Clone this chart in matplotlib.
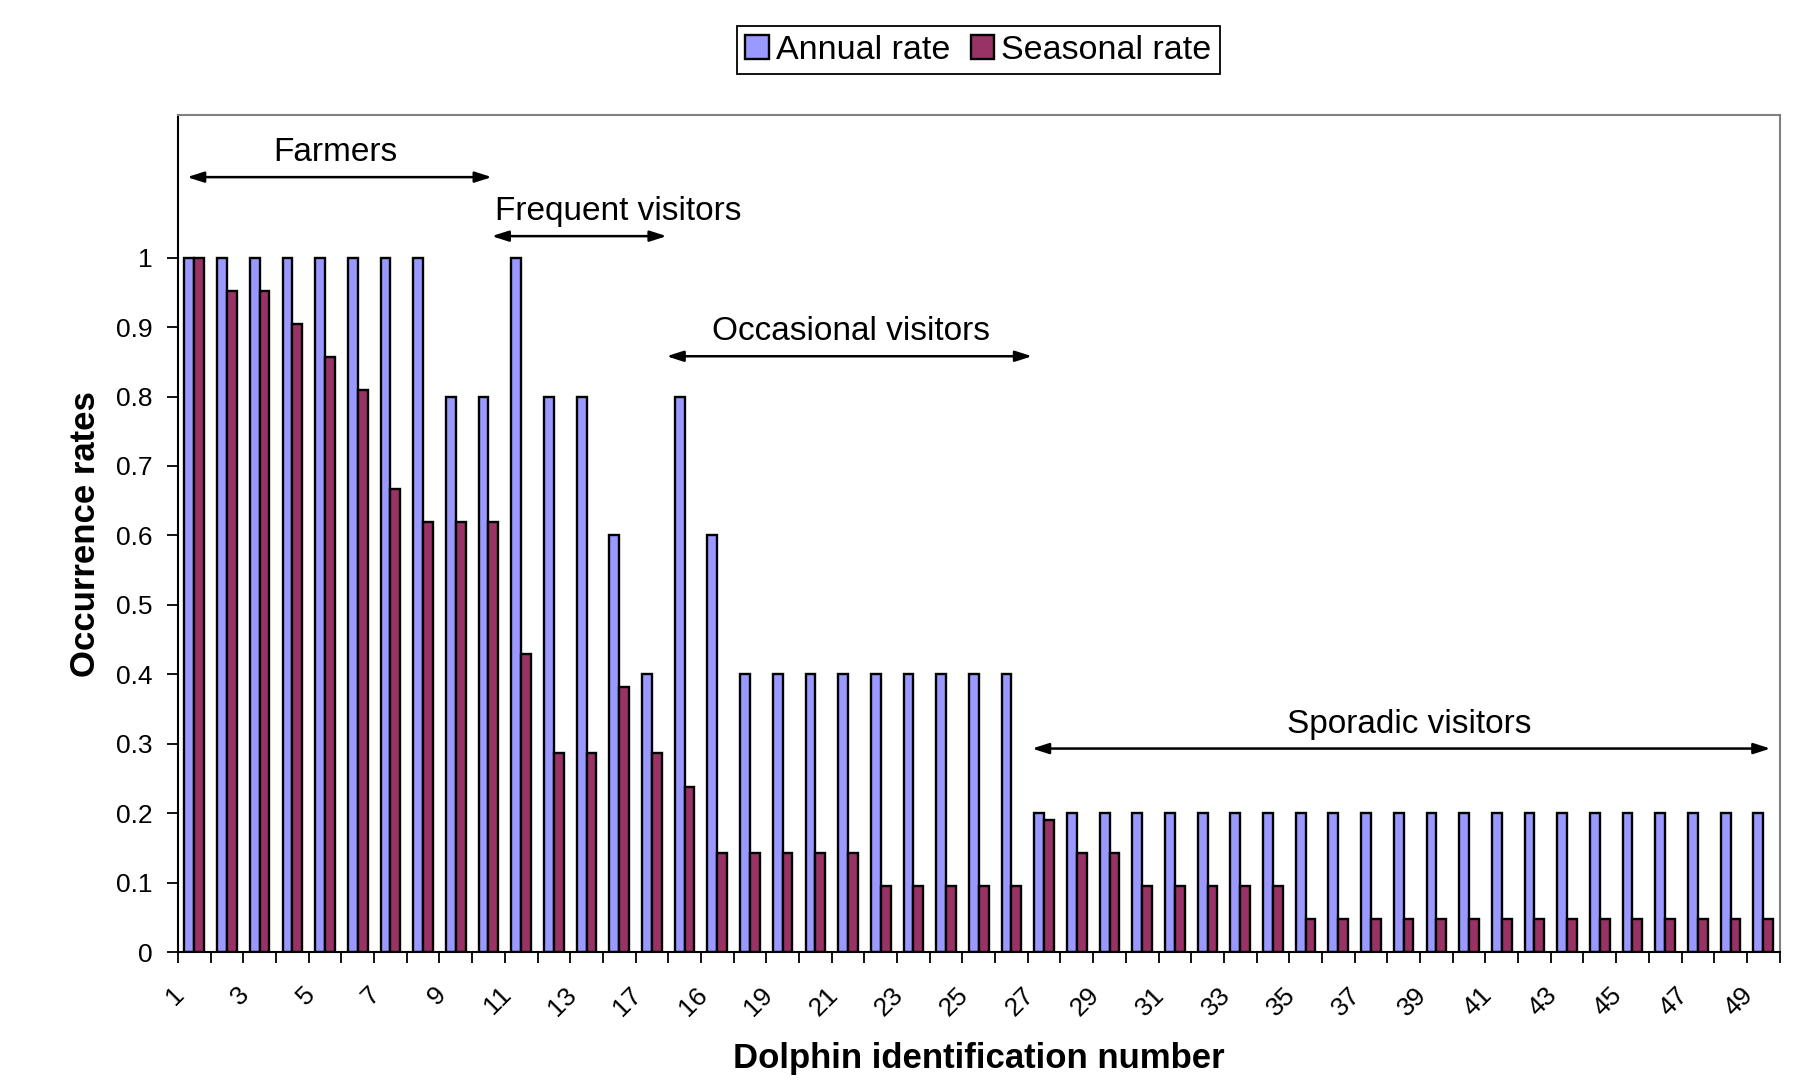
import numpy as np
import matplotlib
matplotlib.use("Agg")
import matplotlib.pyplot as plt
import matplotlib.transforms as mtransforms

plt.rcParams['font.family'] = ['Liberation Sans', 'DejaVu Sans']

# dolphin ids in the order they appear on the x axis
dolphin_ids = list(range(1, 15)) + [17, 15, 16] + list(range(18, 50))

annual_rate = [1, 1, 1, 1, 1, 1, 1, 1, 0.8, 0.8,
               1, 0.8, 0.8, 0.6, 0.4, 0.8, 0.6, 0.4, 0.4, 0.4,
               0.4, 0.4, 0.4, 0.4, 0.4, 0.4] + [0.2] * 23

seasonal_rate = [1, 0.952, 0.952, 0.905, 0.857, 0.81, 0.667, 0.619, 0.619, 0.619,
                 0.429, 0.286, 0.286, 0.381, 0.286, 0.238, 0.143, 0.143, 0.143, 0.143,
                 0.143, 0.095, 0.095, 0.095, 0.095, 0.095, 0.19, 0.143, 0.143, 0.095,
                 0.095, 0.095, 0.095, 0.095] + [0.048] * 15

# groups: label, arrow start, arrow end (x in category positions), arrow y
group_names = ["Farmers", "Frequent visitors", "Occasional visitors", "Sporadic visitors"]
group_start = [-0.22, 9.1, 14.45, 25.63]
group_end = [9.1, 14.45, 25.63, 48.22]
group_y = [1.116, 1.031, 0.858, 0.293]
group_text_x = [4.32, 12.97, 20.08, 37.17]

fig = plt.figure(figsize=(18.03, 10.88), dpi=100)
ax = fig.add_axes([0.0987, 0.125, 0.8883, 0.769])

x = np.arange(len(dolphin_ids))
w = 0.3
ax.bar(x - w / 2, annual_rate, w, color='#9999FF', edgecolor='black', linewidth=1.7,
       label='Annual rate')
ax.bar(x + w / 2, seasonal_rate, w, color='#993366', edgecolor='black', linewidth=1.7,
       label='Seasonal rate')

ax.set_xlim(-0.5, len(dolphin_ids) - 0.5)
ax.set_ylim(0, 1.205)

ax.set_yticks(np.arange(0, 1.01, 0.1))
ax.set_yticklabels(['0'] + ['%.1f' % v for v in np.arange(0.1, 0.95, 0.1)] + ['1'])
ax.tick_params(axis='y', labelsize=19, length=8, width=1.3, direction='out', pad=10)

ax.set_xticks(x[::2])
ax.set_xticklabels([str(d) for d in dolphin_ids[::2]], rotation=45, ha='right',
                   va='center', rotation_mode='anchor')
ax.set_xticks(np.arange(-0.5, len(dolphin_ids)), minor=True)
ax.tick_params(axis='x', which='major', labelsize=19, length=0, pad=28)
ax.tick_params(axis='x', which='minor', length=8, width=1.3, direction='out')
shift = mtransforms.ScaledTranslation(-0.14, 0, fig.dpi_scale_trans)
for lab in ax.get_xticklabels():
    lab.set_transform(lab.get_transform() + shift)

for s in ['left', 'bottom']:
    ax.spines[s].set_linewidth(1.5)
    ax.spines[s].set_color('black')
for s in ['top', 'right']:
    ax.spines[s].set_linewidth(1.5)
    ax.spines[s].set_color('#808080')

ax.set_xlabel('Dolphin identification number', fontsize=25, fontweight='bold', labelpad=16)
ax.set_ylabel('Occurrence rates', fontsize=25, fontweight='bold', labelpad=10)

for name, x0, x1, y, tx in zip(group_names, group_start, group_end, group_y, group_text_x):
    ax.annotate('', xy=(x0, y), xytext=(x1, y),
                arrowprops=dict(arrowstyle='<|-|>,head_length=1.0,head_width=0.32',
                                color='black', lw=1.8, shrinkA=0, shrinkB=0))
    ax.text(tx, y + 0.013, name, fontsize=24, ha='center', va='bottom')

leg = fig.legend(loc='center', bbox_to_anchor=(0.5426, 0.9536), ncol=2, fontsize=24.5,
                 handlelength=0.7, handleheight=0.7, handletextpad=0.2,
                 columnspacing=0.6, borderpad=0.25, fancybox=False,
                 edgecolor='black', framealpha=1)
leg.get_frame().set_linewidth(1.3)

fig.savefig('out.png', dpi=100)
